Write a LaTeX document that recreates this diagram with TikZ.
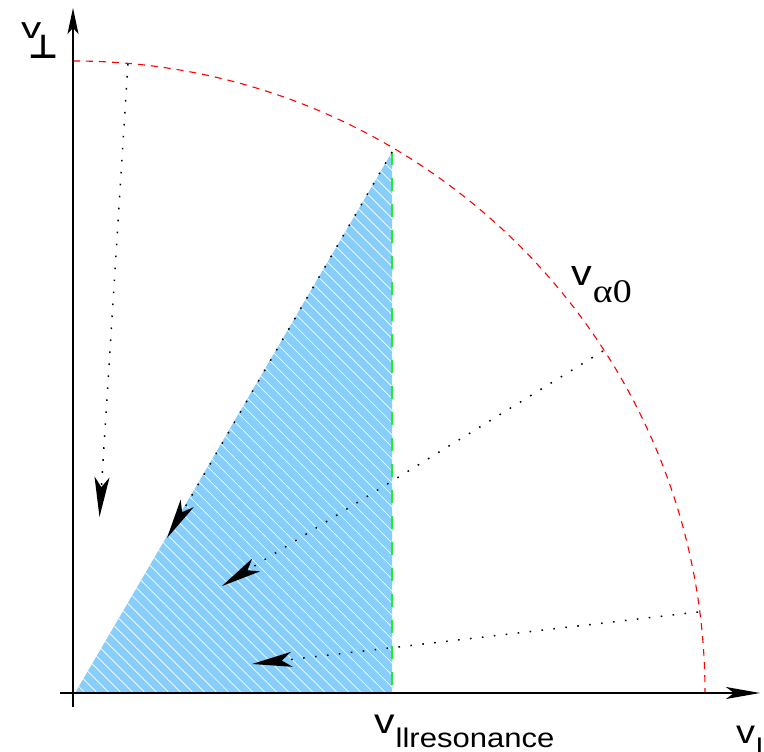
\documentclass[tikz,border=0pt]{standalone}
\usepackage{graphicx}
\usepackage{fontspec}
\setmainfont{Liberation Sans}
\newfontfamily\seriffont{Liberation Serif}
\newfontfamily\symfont{DejaVu Sans}
\usetikzlibrary{arrows.meta,patterns.meta}
\definecolor{fillblue}{RGB}{135,206,250}
\definecolor{dashgreen}{RGB}{40,235,40}
\begin{document}
\begin{tikzpicture}[x=1pt,y=-1pt,
  lbl/.style={inner sep=0pt, anchor=base west},
  dotarrow/.style={line width=1.5pt, dash pattern=on 1.6pt off 10.4pt,
    -{Stealth[length=40pt,width=15pt,inset=10pt]}},
  vaxis/.style={line width=2pt, -{Stealth[length=26pt,width=11pt,inset=6pt]}},
  haxis/.style={line width=2pt, -{Stealth[length=34pt,width=12pt,inset=8pt]}},
  circ/.style={red, line width=1.1pt, dash pattern=on 7pt off 6pt},
  res/.style={dashgreen, line width=1.2pt, dash pattern=on 13pt off 13pt}]
\useasboundingbox (0,0) rectangle (764,752);

% key points
\coordinate (O) at (73,693);
\coordinate (B) at (75,693);
\coordinate (T) at (392,152);
\coordinate (R) at (392,693);
\coordinate (xs) at (60,693);
\coordinate (xe) at (760,693);
\coordinate (ys) at (73,707);
\coordinate (ye) at (73,8);
\coordinate (ctop) at (73,61);

% shaded resonance region
\fill[fillblue] (B) -- (T) -- (R) -- cycle;
\fill[pattern={Lines[angle=-45,distance=8.5pt,line width=0.7pt]}, pattern color=white]
  (B) -- (T) -- (R) -- cycle;
\draw[res] (T) -- (R);

% circle of constant speed
\draw[circ] (ctop) arc[start angle=-90, end angle=0, radius=632];

% diffusion paths
\coordinate (a1) at (128,64);   \coordinate (a1e) at (99.5,517);
\coordinate (a2e) at (167,538);
\coordinate (a3) at (603,351);  \coordinate (a3e) at (222,586);
\coordinate (a4) at (698,612);  \coordinate (a4e) at (252,664);
\draw[dotarrow] (a1) -- (a1e);
\draw[dotarrow] (T) -- (a2e);
\draw[dotarrow] (a3) -- (a3e);
\draw[dotarrow] (a4) -- (a4e);

% axes
\draw[haxis] (xs) -- (xe);
\draw[vaxis] (ys) -- (ye);

% labels
\node[lbl, font=\fontsize{30}{30}\selectfont] (vperp) at (21,39)
  {\scalebox{1.35}[1]{v}\hspace{-13pt}\raisebox{-20pt}{\symfont\bfseries\fontsize{33}{33}\selectfont ⊥}};
\node[lbl, font=\fontsize{36}{36}\selectfont] (va) at (571,285)
  {\scalebox{1.15}[1]{v}\hspace{1pt}\raisebox{-17pt}{\seriffont\fontsize{33}{33}\selectfont\scalebox{1.15}[1]{α0}}};
\node[lbl, font=\fontsize{35}{35}\selectfont] (vres) at (374,733)
  {\scalebox{1.17}[1]{v}\hspace{1pt}\raisebox{-14pt}{\fontsize{27}{27}\selectfont\scalebox{1.15}[1]{llresonance}}};
\node[lbl, font=\fontsize{33}{33}\selectfont] (vpar) at (736,743)
  {\scalebox{1.15}[1]{v}\hspace{1pt}\raisebox{-14pt}{\fontsize{27}{27}\selectfont\scalebox{1.13}[1]{ll}}};
\end{tikzpicture}
\end{document}
